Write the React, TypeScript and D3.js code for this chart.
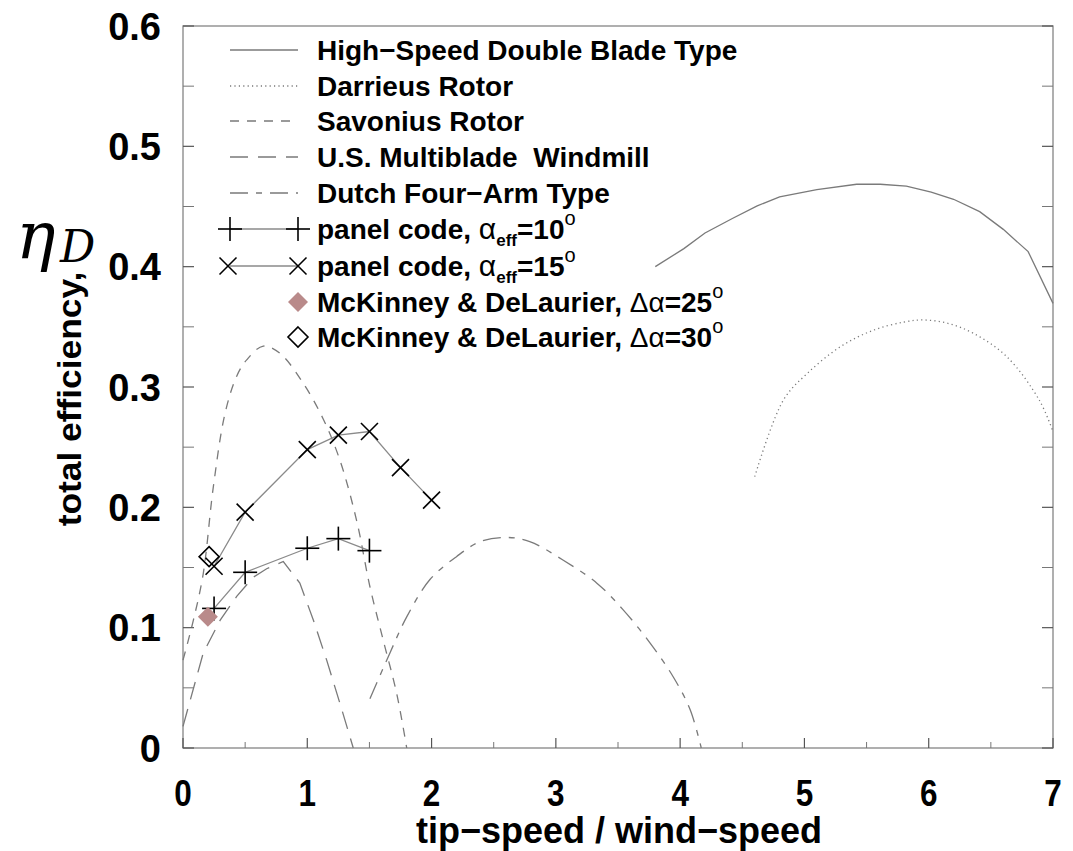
import React from "react";
import * as d3 from "d3";

type Pt = [number, number];

const highSpeed: Pt[] = [
  [3.8, 0.4], [4.03, 0.415], [4.2, 0.428], [4.42, 0.44], [4.62, 0.4505], [4.8, 0.458],
  [5.1, 0.464], [5.42, 0.4685], [5.61, 0.4685], [5.82, 0.467], [6.02, 0.462], [6.2, 0.456],
  [6.41, 0.4457], [6.6, 0.431], [6.8, 0.4125], [7.0, 0.3695],
];
const darrieus: Pt[] = [
  [4.6, 0.2255], [4.83, 0.289], [5.02, 0.311], [5.29, 0.3335], [5.55, 0.347], [5.8, 0.354],
  [5.96, 0.3557], [6.15, 0.353], [6.36, 0.3446], [6.63, 0.325], [6.89, 0.289], [7.0, 0.263],
];
const savonius: Pt[] = [
  [0, 0.073], [0.083, 0.106], [0.163, 0.145], [0.244, 0.217], [0.338, 0.278], [0.432, 0.309],
  [0.512, 0.3225], [0.646, 0.334], [0.78, 0.328], [0.968, 0.303], [1.13, 0.273], [1.263, 0.239],
  [1.397, 0.189], [1.504, 0.134], [1.61, 0.09], [1.72, 0.045], [1.8, 0],
];
const usMulti: Pt[] = [
  [0, 0.018], [0.163, 0.079], [0.298, 0.106], [0.432, 0.126], [0.566, 0.142], [0.673, 0.149],
  [0.807, 0.155], [0.94, 0.137], [1.05, 0.106], [1.156, 0.073], [1.263, 0.037], [1.37, 0],
];
const dutch: Pt[] = [
  [1.504, 0.041], [1.665, 0.079], [1.8, 0.109], [1.987, 0.14], [2.2, 0.159], [2.39, 0.1715],
  [2.6, 0.175], [2.79, 0.1715], [3.06, 0.156], [3.33, 0.137], [3.54, 0.115], [3.76, 0.087],
  [3.945, 0.059], [4.08, 0.032], [4.17, 0],
];
const panel10: Pt[] = [[0.25, 0.116], [0.5, 0.146], [1.0, 0.166], [1.25, 0.174], [1.5, 0.164]];
const panel15: Pt[] = [
  [0.25, 0.151], [0.5, 0.196], [1.0, 0.248], [1.25, 0.26], [1.5, 0.263], [1.75, 0.233], [2.0, 0.206],
];
const mck25: Pt[] = [[0.2, 0.109]];
const mck30: Pt[] = [[0.21, 0.159]];

const xTickLabels = ["0", "1", "2", "3", "4", "5", "6", "7"];
const yTickLabels = ["0", "0.1", "0.2", "0.3", "0.4", "0.5", "0.6"];
const xMinor = [0.5, 1.5, 2.5, 3.5, 4.5, 5.5, 6.5];
const yMinor = [0.05, 0.15, 0.25, 0.35, 0.45, 0.55];

const W = 1073, H = 851;
const x = d3.scaleLinear().domain([0, 7]).range([183, 1053]);
const y = d3.scaleLinear().domain([0, 0.6]).range([748, 26]);

const CURVE = "#7a7a7a";
const DASH_SAV = "9,8";
const DASH_US = "18,10";
const DASH_DUTCH = "18,8,6,8";
const DASH_DOT = "1.2,3.2";

function Plus({ cx, cy }: { cx: number; cy: number }) {
  const s = 12;
  return (
    <g stroke="#000" strokeWidth={1.6}>
      <line x1={cx - s} x2={cx + s} y1={cy} y2={cy} />
      <line x1={cx} x2={cx} y1={cy - s} y2={cy + s} />
    </g>
  );
}
function Cross({ cx, cy }: { cx: number; cy: number }) {
  const s = 8.5;
  return (
    <g stroke="#000" strokeWidth={1.6}>
      <line x1={cx - s} x2={cx + s} y1={cy - s} y2={cy + s} />
      <line x1={cx - s} x2={cx + s} y1={cy + s} y2={cy - s} />
    </g>
  );
}
function Diamond({ cx, cy, fill }: { cx: number; cy: number; fill?: string }) {
  const s = 10;
  return (
    <path
      d={`M${cx},${cy - s}L${cx + s},${cy}L${cx},${cy + s}L${cx - s},${cy}Z`}
      fill={fill || "none"}
      stroke={fill ? "none" : "#000"}
      strokeWidth={1.6}
    />
  );
}

export default function App() {
  const lineGen = d3.line<Pt>().x((d) => x(d[0])).y((d) => y(d[1]));
  const smooth = d3.line<Pt>().x((d) => x(d[0])).y((d) => y(d[1])).curve(d3.curveCatmullRom);

  const legendY = [50, 86, 121, 157, 193, 229, 266, 302, 337];
  const lx1 = 230, lx2 = 298, tx = 317;
  const font = "'Liberation Sans', Arial, Helvetica, sans-serif";
  const serif = "'DejaVu Serif', 'Liberation Serif', serif";

  return (
    <svg width={W} height={H} style={{ position: "absolute", left: 0, top: 0, background: "#fff" }}
      fontFamily={font}>
      <rect x={0} y={0} width={W} height={H} fill="#fff" />
      {/* frame */}
      <rect x={x(0)} y={y(0.6)} width={x(7) - x(0)} height={y(0) - y(0.6)} fill="none" stroke="#858585" strokeWidth={1.3} />
      {/* y ticks */}
      {yTickLabels.map((t) => (
        <g key={"y" + t}>
          <line x1={x(0)} x2={x(0) + 11} y1={y(+t)} y2={y(+t)} stroke="#555" strokeWidth={1.2} />
          <line x1={x(7)} x2={x(7) - 11} y1={y(+t)} y2={y(+t)} stroke="#555" strokeWidth={1.2} />
          <text x={161} y={y(+t)} dy="0.36em" textAnchor="end" fontWeight="bold" fontSize={38}>{t}</text>
        </g>
      ))}
      {yMinor.map((v) => (
        <g key={"ym" + v}>
          <line x1={x(0)} x2={x(0) + 11} y1={y(v)} y2={y(v)} stroke="#777" strokeWidth={1} />
          <line x1={x(7)} x2={x(7) - 11} y1={y(v)} y2={y(v)} stroke="#777" strokeWidth={1} />
        </g>
      ))}
      {/* x ticks */}
      {xTickLabels.map((t) => (
        <g key={"x" + t}>
          <line x1={x(+t)} x2={x(+t)} y1={y(0)} y2={y(0) - 10} stroke="#555" strokeWidth={1.2} />
          <text transform={`translate(${x(+t)},806) scale(0.9,1.05)`} textAnchor="middle" fontWeight="bold" fontSize={35}>{t}</text>
        </g>
      ))}
      {xMinor.map((v) => (
        <line key={"xm" + v} x1={x(v)} x2={x(v)} y1={y(0)} y2={y(0) - 6} stroke="#777" strokeWidth={1} />
      ))}

      {/* axis titles */}
      <text x={619} y={843} textAnchor="middle" fontWeight="bold" fontSize={36}>tip−speed / wind−speed</text>
      <text transform="translate(81,399) rotate(-90) scale(1.04,0.95)" textAnchor="middle" fontWeight="bold" fontSize={34}>total efficiency,</text>
      <text x={16} y={258} fontFamily={serif} fontStyle="italic" fontSize={66}>η</text>
      <text x={60} y={262} fontFamily={serif} fontStyle="italic" fontSize={44}>D</text>

      {/* curves */}
      <path d={lineGen(highSpeed) || ""} fill="none" stroke={CURVE} strokeWidth={1.3} />
      <path d={smooth(darrieus) || ""} fill="none" stroke={CURVE} strokeWidth={1.3} strokeDasharray={DASH_DOT} />
      <path d={smooth(savonius) || ""} fill="none" stroke={CURVE} strokeWidth={1.3} strokeDasharray={DASH_SAV} />
      <path d={lineGen(usMulti) || ""} fill="none" stroke={CURVE} strokeWidth={1.3} strokeDasharray={DASH_US} />
      <path d={smooth(dutch) || ""} fill="none" stroke={CURVE} strokeWidth={1.3} strokeDasharray={DASH_DUTCH} />

      {/* panel code */}
      <path d={lineGen(panel10) || ""} fill="none" stroke="#8a8a8a" strokeWidth={1.3} />
      <path d={lineGen(panel15) || ""} fill="none" stroke="#8a8a8a" strokeWidth={1.3} />
      {panel10.map((d, i) => <Plus key={"p" + i} cx={x(d[0])} cy={y(d[1])} />)}
      {panel15.map((d, i) => <Cross key={"c" + i} cx={x(d[0])} cy={y(d[1])} />)}
      {mck25.map((d, i) => <Diamond key={"m25" + i} cx={x(d[0])} cy={y(d[1])} fill="#b98a8a" />)}
      {mck30.map((d, i) => <Diamond key={"m30" + i} cx={x(d[0])} cy={y(d[1])} />)}

      {/* legend */}
      <g fontWeight="bold" fontSize={28}>
        <line x1={lx1} x2={lx2} y1={legendY[0]} y2={legendY[0]} stroke={CURVE} strokeWidth={1.3} />
        <text x={tx} y={legendY[0] + 10}>High−Speed Double Blade Type</text>
        <line x1={lx1} x2={lx2} y1={legendY[1]} y2={legendY[1]} stroke={CURVE} strokeWidth={1.3} strokeDasharray={DASH_DOT} />
        <text x={tx} y={legendY[1] + 10}>Darrieus Rotor</text>
        <line x1={lx1} x2={lx2} y1={legendY[2]} y2={legendY[2]} stroke={CURVE} strokeWidth={1.3} strokeDasharray={DASH_SAV} />
        <text x={tx} y={legendY[2] + 10}>Savonius Rotor</text>
        <line x1={lx1} x2={lx2} y1={legendY[3]} y2={legendY[3]} stroke={CURVE} strokeWidth={1.3} strokeDasharray={DASH_US} />
        <text x={tx} y={legendY[3] + 10} style={{ whiteSpace: "pre" }}>U.S. Multiblade  Windmill</text>
        <line x1={lx1} x2={lx2} y1={legendY[4]} y2={legendY[4]} stroke={CURVE} strokeWidth={1.3} strokeDasharray={DASH_DUTCH} />
        <text x={tx} y={legendY[4] + 10}>Dutch Four−Arm Type</text>

        <line x1={lx1} x2={lx2} y1={legendY[5]} y2={legendY[5]} stroke="#8a8a8a" strokeWidth={1.3} />
        <Plus cx={lx1} cy={legendY[5]} />
        <Plus cx={lx2} cy={legendY[5]} />
        <text x={tx} y={legendY[5] + 10}>
          panel code, <tspan fontWeight="normal" fontSize={30}>α</tspan>
          <tspan fontSize={17} dy={7}>eff</tspan>
          <tspan dy={-7}>=10</tspan>
          <tspan fontWeight="normal" fontSize={20} dy={-14}>o</tspan>
        </text>
        <line x1={lx1} x2={lx2} y1={legendY[6]} y2={legendY[6]} stroke="#8a8a8a" strokeWidth={1.3} />
        <Cross cx={lx1 - 2} cy={legendY[6]} />
        <Cross cx={lx2} cy={legendY[6]} />
        <text x={tx} y={legendY[6] + 10}>
          panel code, <tspan fontWeight="normal" fontSize={30}>α</tspan>
          <tspan fontSize={17} dy={7}>eff</tspan>
          <tspan dy={-7}>=15</tspan>
          <tspan fontWeight="normal" fontSize={20} dy={-14}>o</tspan>
        </text>
        <Diamond cx={lx2} cy={legendY[7]} fill="#b98a8a" />
        <text x={tx} y={legendY[7] + 10}>
          McKinney &amp; DeLaurier, <tspan fontWeight="normal">Δα</tspan>=25<tspan fontWeight="normal" fontSize={20} dy={-14}>o</tspan>
        </text>
        <Diamond cx={lx2} cy={legendY[8]} />
        <text x={tx} y={legendY[8] + 10}>
          McKinney &amp; DeLaurier, <tspan fontWeight="normal">Δα</tspan>=30<tspan fontWeight="normal" fontSize={20} dy={-14}>o</tspan>
        </text>
      </g>
    </svg>
  );
}
